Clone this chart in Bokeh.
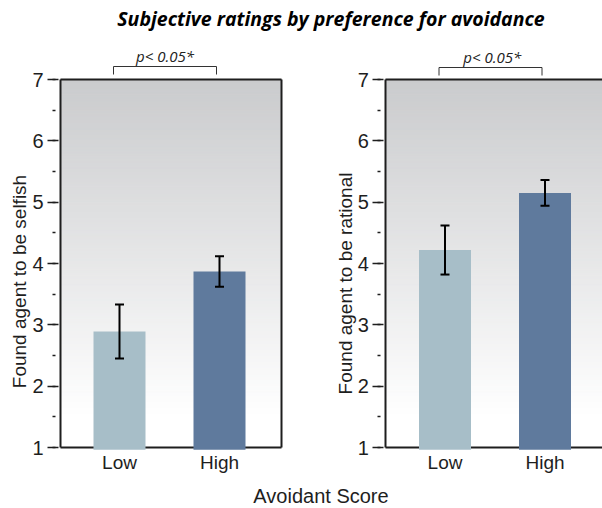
import numpy as np
from bokeh.plotting import figure
from bokeh.models import (Label, Whisker, TeeHead, ColumnDataSource, LinearAxis,
                          FixedTicker, SingleIntervalTicker, Range1d)
from bokeh.embed import file_html
from bokeh.resources import INLINE

# ---- data -------------------------------------------------------------
groups = ["Low", "High"]
selfish_mean = [2.89, 3.87]
selfish_err = [0.44, 0.25]
rational_mean = [4.22, 5.15]
rational_err = [0.40, 0.21]
y_min, y_max = 1, 7
p_text = "p< 0.05*"
main_title = "Subjective ratings by preference for avoidance"
x_title = "Avoidant Score"
y_titles = ["Found agent to be selfish", "Found agent to be rational"]
bar_colors = ["#a7bec8", "#5f7a9d"]

# ---- page geometry (one canvas, two panels drawn side by side) ---------
W, H = 602, 508
PX_PER_X = 100.0                 # one group step = 100 px
PX_PER_Y = 368.0 / (y_max - y_min)
X_LEFT_PX, Y_TOP_PX = 60.0, 79.0  # where (x=-0.59, y=7) sits on the page
X0 = -0.59


def xd(px):
    return X0 + (px - X_LEFT_PX) / PX_PER_X


def yd(py):
    return y_max - (py - Y_TOP_PX) / PX_PER_Y


SANS = "Liberation Sans"
INK = "#1e1e1e"

p = figure(width=W, height=H, output_backend="svg", toolbar_location=None,
           x_range=Range1d(xd(0), xd(W)), y_range=Range1d(yd(H), yd(0)),
           x_axis_type=None, y_axis_type=None, min_border=0)
p.outline_line_color = None
p.background_fill_color = "white"
p.border_fill_color = "white"


def gradient_colors(mids, top_rgb=(202, 203, 205), white_at=1.5):
    frac = np.clip((mids - white_at) / (y_max - white_at), 0, 1)
    out = []
    for f in frac:
        c = [int(round(255 - (255 - t) * f)) for t in top_rgb]
        out.append("#%02x%02x%02x" % tuple(c))
    return out


def line_axis(place, loc, bounds):
    ax = LinearAxis(fixed_location=loc, bounds=bounds, ticker=FixedTicker(ticks=[]),
                    axis_line_width=2, axis_line_color=INK,
                    major_tick_in=0, major_tick_out=0, minor_tick_in=0, minor_tick_out=0,
                    major_label_text_font_size="0px")
    p.add_layout(ax, place)


def panel(means, errs, ytitle, left_px, right_px, closed_right, offset,
          ytitle_px, p_px, bracket_px):
    xl, xr = xd(left_px), xd(right_px)

    # grey-to-white backdrop of the panel
    edges = np.linspace(y_min, y_max, 121)
    mids = (edges[:-1] + edges[1:]) / 2
    cols = gradient_colors(mids)
    bg = p.quad(left=xl, right=xr, bottom=edges[:-1], top=edges[1:],
                fill_color=cols, line_color=cols, line_width=1)
    bg.level = "image"

    xs = [i + offset for i in range(len(groups))]
    src = ColumnDataSource(dict(
        x=xs, top=means, color=bar_colors,
        upper=[m + e for m, e in zip(means, errs)],
        lower=[m - e for m, e in zip(means, errs)]))
    p.vbar(x="x", top="top", bottom=y_min - 0.035, width=0.52, source=src,
           fill_color="color", line_color=None)

    wh = Whisker(base="x", upper="upper", lower="lower", source=src,
                 line_color="black", line_width=2,
                 upper_head=TeeHead(size=9, line_color="black", line_width=2),
                 lower_head=TeeHead(size=9, line_color="black", line_width=2))
    wh.level = "annotation"
    p.add_layout(wh)

    yaxis = LinearAxis(fixed_location=xl, bounds=(y_min, y_max),
                       ticker=SingleIntervalTicker(interval=1, num_minor_ticks=2),
                       axis_line_width=2, axis_line_color=INK,
                       major_tick_in=-2, major_tick_out=13, major_tick_line_width=1.5,
                       major_tick_line_color=INK,
                       minor_tick_in=-5, minor_tick_out=8, minor_tick_line_width=1.5,
                       minor_tick_line_color=INK,
                       major_label_standoff=4, major_label_text_font=SANS,
                       major_label_text_font_size="20px", major_label_text_color=INK)
    p.add_layout(yaxis, "left")

    xaxis = LinearAxis(fixed_location=y_min, bounds=(xl, xr), ticker=FixedTicker(ticks=xs),
                       major_label_overrides={x: g for x, g in zip(xs, groups)},
                       axis_line_width=2, axis_line_color=INK,
                       major_tick_in=0, major_tick_out=0, major_tick_line_color=None,
                       minor_tick_line_color=None, major_label_standoff=4,
                       major_label_text_font=SANS, major_label_text_font_size="19px",
                       major_label_text_color=INK)
    xaxis.level = "underlay"
    p.add_layout(xaxis, "below")

    line_axis("above", y_max, (xl, xr))
    if closed_right:
        line_axis("right", xr, (y_min, y_max))

    p.add_layout(Label(x=xd(ytitle_px[0]), y=yd(ytitle_px[1]), text=ytitle,
                       angle=np.pi / 2, text_align="center", text_baseline="middle",
                       text_font=SANS, text_font_size="19px", text_color=INK))

    p.add_layout(Label(x=xd(p_px[0]), y=yd(p_px[1]), text=p_text,
                       text_align="center", text_baseline="middle",
                       text_font="Open Sans", text_font_style="italic",
                       text_font_size="15px", text_color="#222222"))

    # significance bracket spanning the two bars
    bx0, bx1 = offset - 0.06, offset + 0.97
    yt, yb = yd(bracket_px[0]), yd(bracket_px[1])
    p.line(x=[bx0, bx0, bx1, bx1], y=[yb, yt, yt, yb], line_color="#333333", line_width=1)


panel(selfish_mean, selfish_err, y_titles[0], 60, 281, True, 0.0,
      (19, 281), (164.5, 55), (66, 74))
panel(rational_mean, rational_err, y_titles[1], 385.3, W, False, 3.255,
      (344.5, 283), (491.7, 56), (67, 75))

p.add_layout(Label(x=xd(330.5), y=yd(18), text=main_title,
                   text_align="center", text_baseline="middle", text_font="Open Sans",
                   text_font_style="bold italic", text_font_size="19.5px",
                   text_color="black"))

p.add_layout(Label(x=xd(320.5), y=yd(495), text=x_title,
                   text_align="center", text_baseline="middle", text_font=SANS,
                   text_font_size="20px", text_color=INK))

open("out.html", "w").write(file_html(p, INLINE))
